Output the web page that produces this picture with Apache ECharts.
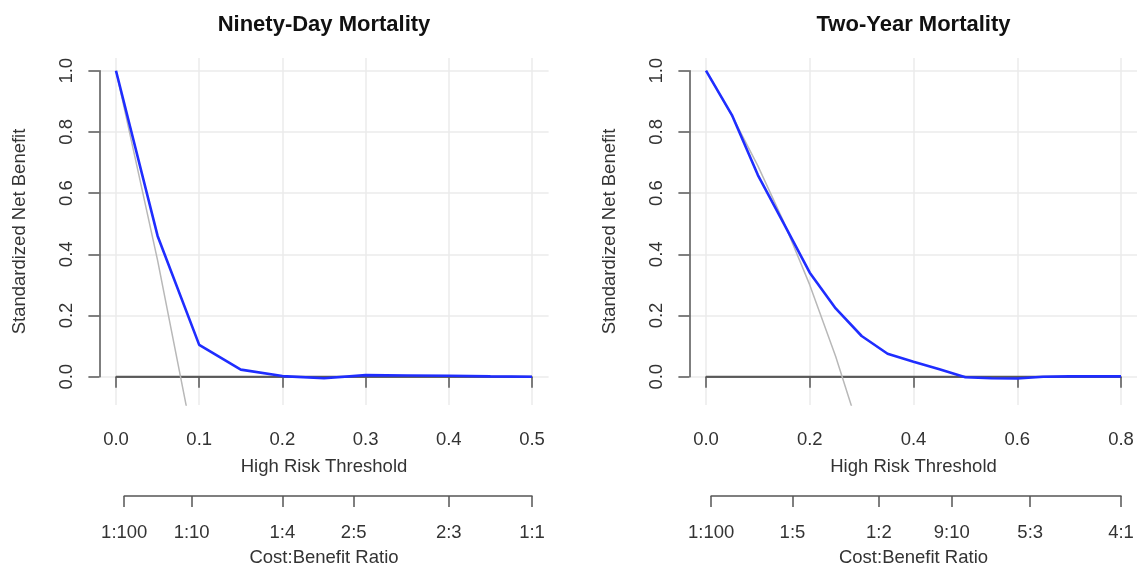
<!DOCTYPE html>
<html><head><meta charset="utf-8">
<script src="https://cdn.jsdelivr.net/npm/echarts@6/dist/echarts.min.js"></script>
<style>html,body{margin:0;padding:0;background:#fff}#c{width:1137px;height:567px}</style>
</head><body><div id="c"></div>
<script>
// ---------- data ----------
const thresholds90 = [0, 0.05, 0.1, 0.15, 0.2, 0.25, 0.3, 0.35, 0.4, 0.45, 0.5];
const model90      = [1.0, 0.46, 0.104, 0.023, 0.002, -0.005, 0.005, 0.004, 0.003, 0.001, 0.0];
const treatAllX90  = [0, 0.05, 0.1];
const treatAll90   = [1.0, 0.38, -0.31];

const thresholds2y = [0, 0.05, 0.1, 0.15, 0.2, 0.25, 0.3, 0.35, 0.4, 0.45, 0.5, 0.55, 0.6, 0.65, 0.7, 0.75, 0.8];
const model2y      = [1.0, 0.855, 0.659, 0.50, 0.34, 0.223, 0.133, 0.075, 0.049, 0.024, -0.002, -0.005, -0.006, 0.0, 0.001, 0.001, 0.001];
const treatAllX2y  = [0, 0.05, 0.1, 0.15, 0.2, 0.25, 0.3];
const treatAll2y   = [1.0, 0.853, 0.689, 0.505, 0.30, 0.066, -0.20];

const yTicks     = [0, 0.2, 0.4, 0.6, 0.8, 1.0];
const xTicks90   = [0, 0.1, 0.2, 0.3, 0.4, 0.5];
const xTicks2y   = [0, 0.2, 0.4, 0.6, 0.8];
const cbLabels90 = ['1:100', '1:10', '1:4', '2:5', '2:3', '1:1'];
const cbValues90 = [0.0099, 0.0909, 0.2, 0.2857, 0.4, 0.5];
const cbLabels2y = ['1:100', '1:5', '1:2', '9:10', '5:3', '4:1'];
const cbValues2y = [0.0099, 0.1667, 0.3333, 0.4737, 0.625, 0.8];

const titles = ['Ninety-Day Mortality', 'Two-Year Mortality'];

// ---------- style / layout ----------
const FONT = "'Liberation Sans', Arial, Helvetica, sans-serif";
const AXIS = '#555';
const GRIDC = '#ebebeb';
const TXT = '#333';
const FS = 18.5;

const Y_MIN = -0.0925, Y_MAX = 1.0415;
const panels = [
  {title: titles[0], xs: thresholds90, ys: model90, ax: treatAllX90, ay: treatAll90, xTicks: xTicks90, xMax: 0.5, interval: 0.1,
   cbL: cbLabels90, cbV: cbValues90, plotL: 99.4, plotR: 548.6, x0: 116, x1: 532},
  {title: titles[1], xs: thresholds2y, ys: model2y, ax: treatAllX2y, ay: treatAll2y, xTicks: xTicks2y, xMax: 0.8, interval: 0.2,
   cbL: cbLabels2y, cbV: cbValues2y, plotL: 689.4, plotR: 1137.6, x0: 706, x1: 1121}
];
const PLOT_T = 58, PLOT_B = 405, Y0PX = 376.7, Y1PX = 70.7, CB_Y = 496;

const grid = [], xAxis = [], yAxis = [], series = [], title = [];
const zip = (a, b) => a.map((v, i) => [v, b[i]]);

panels.forEach((p, k) => {
  const g = grid.length;
  const pxPerX = (p.x1 - p.x0) / p.xMax;
  // data grid
  grid.push({left: p.x0, top: PLOT_T, width: p.x1 - p.x0, height: PLOT_B - PLOT_T});
  // y grid
  grid.push({left: p.plotL, top: Y1PX, width: p.plotR - p.plotL, height: Y0PX - Y1PX});
  // cost-benefit grid
  const cbLeft = p.x0 + p.cbV[0] * pxPerX;
  grid.push({left: cbLeft, top: CB_Y - 10, width: p.x1 - cbLeft, height: 10});

  xAxis.push({
    gridIndex: g, type: 'value', min: 0, max: p.xMax, interval: p.interval,
    axisLine: {show: true, lineStyle: {color: AXIS, width: 1.5}},
    axisTick: {show: true, length: 11, lineStyle: {color: AXIS, width: 1.5}},
    axisLabel: {margin: 25, color: TXT, fontSize: FS, fontFamily: FONT, formatter: v => v.toFixed(1)},
    splitLine: {show: true, lineStyle: {color: GRIDC, width: 1.5}},
    name: 'High Risk Threshold', nameLocation: 'middle', nameGap: 52,
    nameTextStyle: {color: TXT, fontSize: FS, fontFamily: FONT}
  });
  yAxis.push({
    gridIndex: g, type: 'value', min: Y_MIN, max: Y_MAX,
    axisLine: {show: false}, axisTick: {show: false}, axisLabel: {show: false}, splitLine: {show: false},
    name: 'Standardized Net Benefit', nameLocation: 'middle', nameGap: p.x0 - p.plotL + 70,
    nameTextStyle: {color: TXT, fontSize: FS, fontFamily: FONT}
  });
  xAxis.push({gridIndex: g + 1, type: 'value', min: 0, max: 1, show: false});
  yAxis.push({
    gridIndex: g + 1, type: 'value', min: 0, max: 1, interval: 0.2,
    axisLine: {show: true, lineStyle: {color: AXIS, width: 1.5}},
    axisTick: {show: true, length: 11, lineStyle: {color: AXIS, width: 1.5}},
    axisLabel: {rotate: 90, margin: 23, color: TXT, fontSize: FS, fontFamily: FONT, formatter: v => v.toFixed(1)},
    splitLine: {show: true, lineStyle: {color: GRIDC, width: 1.5}}
  });
  xAxis.push({
    gridIndex: g + 2, type: 'value', min: p.cbV[0], max: p.xMax,
    axisLine: {show: true, lineStyle: {color: AXIS, width: 1.5}},
    axisTick: {show: true, length: 11, customValues: p.cbV, lineStyle: {color: AXIS, width: 1.5}},
    axisLabel: {margin: 27, color: TXT, fontSize: FS, fontFamily: FONT, customValues: p.cbV,
      formatter: v => { let best = 0; p.cbV.forEach((c, i) => { if (Math.abs(c - v) < Math.abs(p.cbV[best] - v)) best = i; }); return p.cbL[best]; }},
    splitLine: {show: false}
  });
  yAxis.push({gridIndex: g + 2, type: 'value', min: 0, max: 1, show: false});

  // series
  series.push({type: 'line', xAxisIndex: g, yAxisIndex: g, data: [[0, 0], [p.xMax, 0]], symbol: 'none',
    lineStyle: {color: '#595959', width: 2}, z: 3, silent: true});
  series.push({type: 'line', xAxisIndex: g, yAxisIndex: g, data: zip(p.ax, p.ay), symbol: 'none', clip: true,
    lineStyle: {color: '#b8b8b8', width: 1.5}, z: 4, silent: true});
  series.push({type: 'line', xAxisIndex: g, yAxisIndex: g, data: zip(p.xs, p.ys), symbol: 'none', clip: true,
    lineStyle: {color: '#1f2dff', width: 2.6}, z: 5, silent: true});

  const cx = (p.plotL + p.plotR) / 2;
  title.push({text: p.title, left: cx, top: 12, textAlign: 'center', padding: 0,
    textStyle: {fontSize: 22, fontWeight: 'bold', color: '#111', fontFamily: FONT, lineHeight: 26}});
  title.push({text: 'Cost:Benefit Ratio', left: (p.plotL + Math.min(p.plotR, p.x1 + (p.x0 - p.plotL))) / 2, top: 547, textAlign: 'center', padding: 0,
    textStyle: {fontSize: FS, fontWeight: 'normal', color: TXT, fontFamily: FONT, lineHeight: 22}});
});

const chart = echarts.init(document.getElementById('c'), null, {renderer: 'canvas'});
chart.setOption({animation: false, backgroundColor: '#fff', title, grid, xAxis, yAxis, series});
</script>
</body></html>
